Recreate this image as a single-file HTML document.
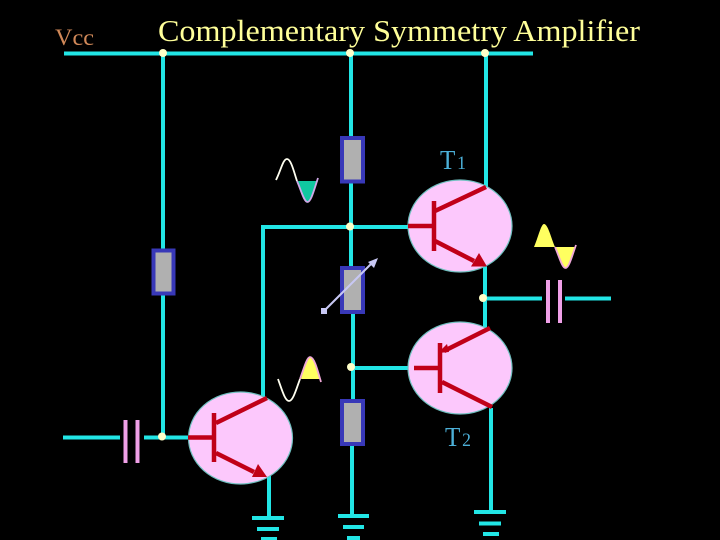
<!DOCTYPE html>
<html>
<head>
<meta charset="utf-8">
<style>
html,body{margin:0;padding:0;background:#000;width:720px;height:540px;overflow:hidden}
svg{display:block}
text{font-family:"Liberation Serif",serif}
.w{stroke:#22e6e6;stroke-width:4;fill:none}
.r{fill:#b0b0b0;stroke:#3838b8;stroke-width:4}
.e{fill:#fcc8fc;stroke:#70c0c0;stroke-width:1.2}
.t{stroke:#c00018;stroke-width:4.5;fill:none}
.c{stroke:#f0a0e8;stroke-width:4;fill:none}
.d{fill:#ffffc8}
.a{fill:#c00018}
</style>
</head>
<body>
<svg width="720" height="540" viewBox="0 0 720 540">
<rect width="720" height="540" fill="#000"/>
<!-- wires -->
<path class="w" d="M64 53.5H533"/>
<path class="w" d="M163 53V437M351 53V227M353 314V400M352 445V514M263 398V227H409M486 53V188M485 266V330M487 298.5H542M565 298.5H611M352 368H411M491 408V510M63 437.5H120M144 437.5H189M269 476V516M351 227V266"/>
<!-- grounds -->
<path class="w" d="M252 518H284M257 529H279M261 539H277M338 516H369M343 527H364M347 538H360M474 512H506M479 523.5H501M483 534H499"/>
<!-- resistors -->
<rect class="r" x="153.500" y="250.500" width="20" height="43"/>
<rect class="r" x="342" y="138" width="21" height="43.500"/>
<rect class="r" x="342" y="268" width="21" height="44"/>
<rect class="r" x="342" y="401" width="21" height="43"/>
<!-- variable arrow -->
<path d="M324 311L372 263" stroke="#c8c8f4" stroke-width="2" fill="none"/>
<rect x="321" y="308" width="6" height="6" fill="#c8c8f4"/>
<path d="M378 258L374 268L368 262Z" fill="#c8c8f4"/>
<!-- transistor bodies -->
<ellipse class="e" cx="460" cy="226" rx="52" ry="46"/>
<ellipse class="e" cx="460" cy="368" rx="52" ry="46"/>
<ellipse class="e" cx="240.500" cy="438" rx="52" ry="46"/>
<!-- T1 -->
<path class="t" d="M434 201V251M408 226H434M435 211L486 187M435 241L474 261"/>
<path class="a" d="M487 266.500L471 266.500L479 253Z"/>
<!-- T2 -->
<path class="t" d="M440 343V393M414 368H440M490 328L444 351M442 382L492 407"/>
<path class="a" d="M438 353L447 344L449 352Z"/>
<!-- T3 -->
<path class="t" d="M214 413V462M188 437.500H214M216 423L267 398M216 453L254 472"/>
<path class="a" d="M267 477L252 477L258 464Z"/>
<!-- capacitors -->
<path class="c" d="M125.500 420V463M137.500 420V463M548 280V323M560 280V323"/>
<!-- wave top -->
<path d="M276 180C281 170 283 159 287 159C291 159 294 172 297 181" stroke="#fffff0" stroke-width="1.8" fill="none"/>
<path d="M298 181H318C314 190 311 202 307.500 202C304 202 301 190 298 181Z" fill="#10c8a0"/>
<path d="M297 181C301 190 304 202 307.500 202C311 202 314 190 318 178" stroke="#d0a8e8" stroke-width="1.800" fill="none"/>
<!-- wave right -->
<path d="M534 247C538 238 541 224 544 224C548 224 551 238 555 247Z" fill="#ffff60"/>
<path d="M555 247H576C572 256 569 268 565.500 268C562 268 559 256 555 247Z" fill="#ffff60"/>
<path d="M555 247C559 256 562 268 565.500 268C569 268 572 256 576 245" stroke="#f0a8d8" stroke-width="1.800" fill="none"/>
<!-- wave bottom -->
<path d="M278 379C282 390 285 401 289 401C293 401 296 390 300 379" stroke="#fffff0" stroke-width="1.800" fill="none"/>
<path d="M301 379C304 368 307 357 310 357C314 357 317 368 320 379Z" fill="#ffff60"/>
<path d="M300 379C304 368 307 357 310 357C314 357 317 368 321 382" stroke="#f0a8d8" stroke-width="1.800" fill="none"/>
<!-- dots -->
<circle class="d" cx="163" cy="53" r="4"/>
<circle class="d" cx="350" cy="53" r="4"/>
<circle class="d" cx="485" cy="53" r="4"/>
<circle class="d" cx="350" cy="226.500" r="4"/>
<circle class="d" cx="483" cy="298" r="4"/>
<circle class="d" cx="351" cy="367" r="4"/>
<circle class="d" cx="162" cy="436.500" r="4"/>
<!-- labels -->
<text x="55" y="45" font-size="23" fill="#d08858" textLength="39" lengthAdjust="spacingAndGlyphs">Vcc</text>
<text x="158" y="41" font-size="31" fill="#ffff99" textLength="482" lengthAdjust="spacingAndGlyphs">Complementary Symmetry Amplifier</text>
<text x="440" y="169" font-size="27" fill="#4cb0d8" textLength="26" lengthAdjust="spacingAndGlyphs">T<tspan font-size="19" dx="2">1</tspan></text>
<text x="445" y="446" font-size="27" fill="#4cb0d8" textLength="26" lengthAdjust="spacingAndGlyphs">T<tspan font-size="19" dx="2">2</tspan></text>
</svg>
</body>
</html>
